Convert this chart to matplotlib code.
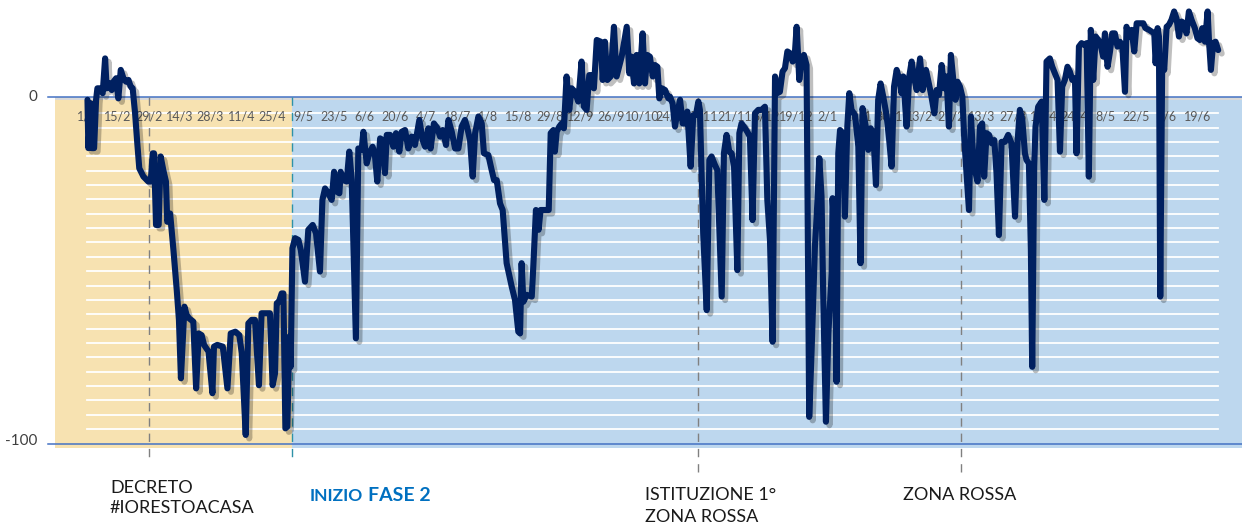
import matplotlib
matplotlib.use("Agg")
import matplotlib.pyplot as plt
import matplotlib.patheffects as pe
import numpy as np

# giorni dal 1/2/2020 e variazione mobilita' (%)
DAYS = [
    0.2, 0.6, 1.7, 2.1, 3.2, 4.1, 4.7, 5.9, 7.1, 8.2, 8.9, 10.1, 11.2, 12.0, 13.2, 14.2,
    15.3, 16.5, 17.7, 18.8, 19.8, 20.7, 21.8, 22.8, 23.7, 25.6, 27.8, 28.9, 29.8, 30.4,
    31.3, 32.5, 33.4, 34.6, 35.8, 36.4, 37.7, 39.2, 40.7, 41.7, 42.6, 44.2, 45.2, 46.4,
    48.2, 49.5, 50.7, 52.0, 53.1, 55.1, 56.9, 57.6, 59.1, 61.6, 63.7, 65.2, 67.3, 69.1,
    70.2, 72.0, 73.2, 74.7, 76.2, 78.0, 79.2, 83.0, 84.2, 85.3, 86.1, 87.1, 88.3, 89.1,
    90.0, 90.9, 91.8, 92.4, 93.2, 94.4, 95.9, 97.0, 98.9, 100.4, 102.4, 103.9, 105.7,
    106.8, 108.0, 109.5, 111.0, 112.1, 113.3, 114.5, 115.1, 116.3, 117.8, 119.0, 120.1,
    122.0, 123.1, 124.6, 125.4,
    126.9, 128.1, 129.6, 130.7, 131.7, 133.0, 134.2, 135.2, 136.0, 137.5, 139.0, 140.2,
    141.7, 142.8, 144.3, 145.8, 147.3, 148.8, 150.8, 152.3, 153.4, 154.9, 155.9, 157.4,
    159.0, 160.2, 161.4, 162.9, 164.0, 165.5, 167.0, 168.5, 170.0, 171.5, 172.6, 173.8,
    175.0, 176.1, 177.6, 179.1, 180.1, 182.1, 183.6, 184.7, 185.9, 187.4, 188.6, 190.4,
    192.7, 194.2, 195.7, 196.5, 197.2, 198.0, 199.5, 201.8, 202.5, 203.7, 204.9, 205.8,
    207.8, 209.5, 210.4, 211.6, 212.3, 213.1, 214.3, 215.4, 216.4, 217.6, 218.8, 219.9,
    221.4, 222.9, 224.4, 225.5, 226.7, 227.9, 229.0, 230.0, 231.3, 233.1, 234.0, 235.0,
    236.1, 237.6, 239.1, 240.3, 242.6, 244.9, 246.1, 247.1, 248.2, 249.4, 250.6, 252.1,
    253.2, 254.2, 255.4, 256.7, 257.7, 258.8, 259.7, 260.9, 262.3, 263.8, 264.5, 265.7,
    266.8, 267.8, 269.1, 270.3, 271.3, 272.4, 273.9, 275.1, 276.3, 277.4, 278.1, 279.6,
    281.2, 282.4, 283.4, 284.9, 286.0, 288.0, 289.0, 290.2, 291.4, 292.5, 293.6, 295.1,
    296.0, 297.0, 298.6, 299.6, 300.8, 302.0, 303.1, 304.6, 306.1, 307.6, 308.7, 309.9,
    311.1, 312.2, 313.2, 314.4, 315.6, 316.7, 317.8, 319.0, 320.2, 321.2, 322.0, 323.2,
    324.3, 325.3, 326.5, 327.7, 328.8, 330.3, 331.1, 332.3, 333.3, 334.1, 335.3, 336.4,
    337.9, 338.3, 339.4, 340.1, 340.9, 341.7, 342.9, 343.9, 345.0, 345.9, 346.9, 348.5,
    350.0, 351.0, 351.9, 353.5, 354.5, 355.6, 356.8, 358.0, 359.0, 360.1, 361.3, 362.8,
    364.0, 365.1, 366.2, 367.4, 368.6, 369.6, 370.4, 371.9, 373.1, 374.2, 375.2, 376.5,
    378.0, 379.2, 380.7,
    382.9, 384.5, 385.5, 386.6, 387.8, 389.0, 390.0, 391.1, 392.0, 393.1, 394.1, 395.0,
    396.1, 397.2, 398.1, 399.1, 400.2, 401.1, 402.2, 402.9, 404.1, 405.2, 406.2, 407.1,
    408.2, 409.3, 410.5, 411.7, 412.7, 413.8, 415.0, 416.5, 418.0, 419.5, 421.1, 422.3,
    423.3, 424.4, 425.6, 426.3, 427.4, 428.3, 428.9, 429.8, 430.4, 431.6, 433.2, 434.4,
    435.4, 436.9, 438.0, 439.2, 440.4, 441.5, 442.5, 443.7, 444.9, 446.0, 447.1, 448.3,
    449.0, 450.1, 451.3, 452.5, 453.6, 454.6, 455.5, 456.6, 457.7, 458.9, 460.1, 461.1,
    461.9, 463.1, 464.2, 465.2, 466.4, 467.6, 468.7, 469.8, 471.0, 471.7, 472.8, 474.0,
    475.2, 476.3, 477.8, 479.3, 480.3, 481.9, 483.1, 484.3, 484.9, 485.8, 486.4, 487.0,
    487.9, 488.8, 489.9, 490.9, 492.1, 493.3, 494.4, 495.5, 496.7, 497.9, 498.9, 500.0,
    501.2, 502.7, 503.9, 505.0, 506.1, 507.3, 508.5, 509.1, 510.0, 511.0, 512.1, 513.3,
]
MOBILITY = [
    -0.9, -14.8, -1.9, -14.8, -14.8, -0.9, 2.4, 2.4, 1.0, 11.0, 2.4, 3.9, 1.9, 4.3, 5.3, -0.5,
    7.7, 5.3, 4.3, 4.8, 2.9, 2.4, -4.8, -13.4, -20.6, -23.0, -24.4, -24.4, -16.3, -16.3,
    -36.9, -36.9, -17.2, -21.1, -24.4, -36.0, -33.6, -44.1, -55.6, -64.2, -81.0, -60.4, -62.8, -63.8,
    -64.7, -83.9, -68.1, -68.6, -71.4, -73.3, -85.3, -71.9, -71.4, -71.9, -83.9, -68.1, -67.6, -68.6,
    -73.8, -97.3, -65.2, -64.2, -64.2, -83.0, -62.3, -62.3, -83.0, -79.6, -59.4, -59.0, -56.6, -56.6,
    -95.4, -94.9, -69.0, -77.7, -43.6, -40.7, -41.2, -44.1, -53.2, -38.3, -36.9, -39.3, -50.3,
    -29.7, -26.4, -27.8, -29.7, -21.6, -27.3, -27.8, -21.6, -24.0, -24.4, -15.8, -24.0,
    -69.5, -14.9, -15.3, -10.1,
    -19.2, -16.3, -14.4, -17.3, -24.4, -12.0, -12.5, -22.0, -11.0, -11.0, -14.4, -10.5,
    -15.8, -10.1, -9.6, -14.9, -11.5, -13.9, -6.7, -12.5, -14.4, -9.1, -14.9, -7.7,
    -9.1, -11.5, -9.6, -13.9, -6.7, -10.1, -14.9, -14.9, -8.6, -6.7, -9.1, -12.5,
    -23.0, -10.5, -5.7, -7.7, -16.3, -16.8, -21.1, -24.0, -24.0, -30.7, -32.6, -47.9,
    -54.6, -58.5, -67.6, -68.1, -47.9, -59.0, -57.0, -57.5, -48.9, -32.6, -38.3, -32.6,
    -32.6, -32.6, -10.5, -9.6, -15.8, -10.1, -8.6, -7.7, -9.1, 5.8, -3.8, 2.4,
    1.4, -1.4, 10.1, -2.9, -3.8, 6.2, 6.2, 2.4, 16.3, 15.8, 4.8, 15.8,
    4.8, 5.8, 20.1, 5.8, 11.5, 20.1, 6.7, 11.5, 3.8, 12.0, 3.8, 18.2,
    3.8, 12.0, 11.5, 5.8, 9.1, 8.6, -0.5, 2.4, 1.9, -0.5, 0.0, -1.9,
    -8.6, -4.8, -0.9, -7.7, -7.7, -4.3, -20.1, -5.3, -5.3, -1.4, -3.8, -39.3,
    -61.4, -18.2, -17.2, -19.6, -21.1, -57.5, -16.3, -11.0, -15.8, -16.3, -20.1, -49.9,
    -10.5, -7.7, -9.1, -10.1, -11.5, -35.5, -4.8, -3.8, -3.8, -2.9, -29.7, -41.2,
    -70.5, 5.8, 1.0, 1.4, 7.2, 8.2, 13.0, 12.5, 10.1, 12.5, 20.1, 4.8,
    11.0, 12.0, 9.1, -92.1, -72.9, -43.1, -34.5, -17.7, -28.8, -58.5, -93.5, -68.1,
    -50.8, -29.2, -41.2, -82.0, -16.3, -9.6, -10.5, -34.5, -8.6, 1.0, -3.8, -5.3,
    -14.4, -47.9, -3.3, -9.1, -15.3, -9.1, -10.5, -25.4, -0.9, 3.8, 0.0, -5.3,
    -12.5, -20.1, 2.9, 7.7, 4.8, 1.0, 5.8, -8.6, 5.8, 10.1, 5.8, 1.9,
    11.0, 1.9, 7.7,
    1.0, -4.8, 1.9, 0.5, 9.1, 2.4, 5.8, -8.6, 12.0, 4.8, -0.9, 4.3,
    2.9, 0.0, -12.5, -22.0, -32.6, -5.7, -18.2, -21.1, -24.4, -8.6, -7.7, -23.0,
    -10.5, -11.0, -13.4, -12.5, -22.0, -39.8, -13.0, -13.0, -11.0, -13.4, -34.5, -12.5,
    -3.8, -6.7, -16.3, -18.2, -19.2, -44.1, -77.7, -20.1, -8.6, -2.9, -1.4, -29.7,
    10.1, 11.0, 8.6, 6.7, 4.8, -15.8, 2.9, 4.8, 8.6, 7.2, 4.8, 5.3,
    -16.3, 14.4, 15.4, 14.9, 15.4, -23.0, 19.2, 4.8, 17.3, 16.3, 14.4, 11.5,
    18.2, 8.6, 13.0, 18.2, 18.2, 14.4, 15.8, 14.4, 1.4, 20.1, 17.3, 19.2,
    13.0, 21.1, 21.1, 21.1, 19.7, 19.2, 18.7, 18.2, 9.6, 19.7, 17.3, -57.5,
    10.6, 7.7, 20.1, 20.6, 22.1, 24.5, 22.5, 17.3, 21.6, 21.1, 18.2, 24.5,
    22.1, 19.7, 16.8, 16.3, 19.7, 15.8, 24.5, 16.3, 7.7, 15.4, 15.8, 13.4,
]

TICK_LABELS = ["1/2", "15/2", "29/2", "14/3", "28/3", "11/4", "25/4", "9/5", "23/5",
               "6/6", "20/6", "4/7", "18/7", "1/8", "15/8", "29/8", "12/9", "26/9",
               "10/10", "24/10", "7/11", "21/11", "5/12", "19/12", "2/1", "16/1",
               "30/1", "13/2", "27/2", "13/3", "27/3", "10/4", "24/4", "8/5", "22/5",
               "5/6", "19/6"]
TICK_DAYS = [14 * i for i in range(len(TICK_LABELS))]

EVENT_DAYS = [28.3, 93.0, 277.2, 396.6]
FASE2_DAY = 93.0

# ---- figure ----
fig = plt.figure(figsize=(12.42, 5.25), dpi=100)
ax = fig.add_axes([0, 0, 1, 1])
ax.set_xlim(-39.5, 524.1)
ax.set_ylim(-123.2, 27.8)
ax.axis("off")

x_left, x_right = -14.5, 524.1

# sfondi: lockdown (arancio) e dopo (azzurro)
ax.fill_between([x_left, FASE2_DAY], -101, -1, color="#F7E2B1", lw=0, zorder=0)
ax.fill_between([FASE2_DAY, x_right], -101, -1, color="#BDD7EE", lw=0, zorder=0)
ax.fill_between([x_left, x_right], -1, 0, color="#D9D9D9", lw=0, zorder=0)

# griglia bianca
for yv in np.linspace(-4.8, -95.6, 23):
    ax.plot([DAYS[0] - 0.3, DAYS[-1]], [yv, yv], color="white", lw=1.3, zorder=1)

# linee 0 e -100
ax.plot([-17.7, x_right], [0, 0], color="#4472C4", lw=1.1, zorder=2)
ax.plot([-17.7, x_right], [-100, -100], color="#4472C4", lw=1.1, zorder=2)

# etichette asse x dentro il grafico
for d, lab in zip(TICK_DAYS, TICK_LABELS):
    ax.text(d, -5.8, lab, ha="center", va="center", fontsize=9.0,
            family="Lato", color="#595959", zorder=3)

# etichette asse y
ax.text(-22.5, 0, "0", ha="right", va="center", fontsize=11, family="Lato", color="#404040")
ax.text(-22.5, -99, "-100", ha="right", va="center", fontsize=11, family="Lato", color="#404040")

# linee verticali eventi
ev_colors = ["#808080", "#2E92A8", "#808080", "#808080"]
ev_bottoms = [-105.4, -105.4, -108.5, -108.5]
for d, c, b in zip(EVENT_DAYS, ev_colors, ev_bottoms):
    ax.plot([d, d], [0, b], color=c, lw=1.0, ls=(0, (6, 5)), zorder=2)

# serie
ax.plot(DAYS, MOBILITY, color="#002060", lw=4.4, solid_joinstyle="round",
        solid_capstyle="round", zorder=4,
        path_effects=[pe.SimpleLineShadow(offset=(2.5, -2.5), shadow_color="black", alpha=0.25),
                      pe.Normal()])

# annotazioni
txt = dict(family="Lato", fontsize=13, fontweight="normal", color="#1A1A1A", va="baseline")
ax.text(10.4, -113.9, "DECRETO", **txt)
ax.text(10.4, -119.8, "#IORESTOACASA", **txt)
ax.text(253.2, -116.0, "ISTITUZIONE 1°", **txt)
ax.text(253.2, -122.4, "ZONA ROSSA", **txt)
ax.text(370.2, -116.0, "ZONA ROSSA", **txt)

t1 = ax.text(101.2, -116.3, "INIZIO", family="Lato", fontsize=12.5, fontweight="bold",
             color="#0070C0", va="baseline")
ax.annotate("FASE 2", xy=(1, 0), xycoords=t1, xytext=(3.5, 0), textcoords="offset points",
            family="Lato", fontsize=14, fontweight="bold", color="#0070C0", va="bottom")

fig.savefig("out.png", dpi=100)
